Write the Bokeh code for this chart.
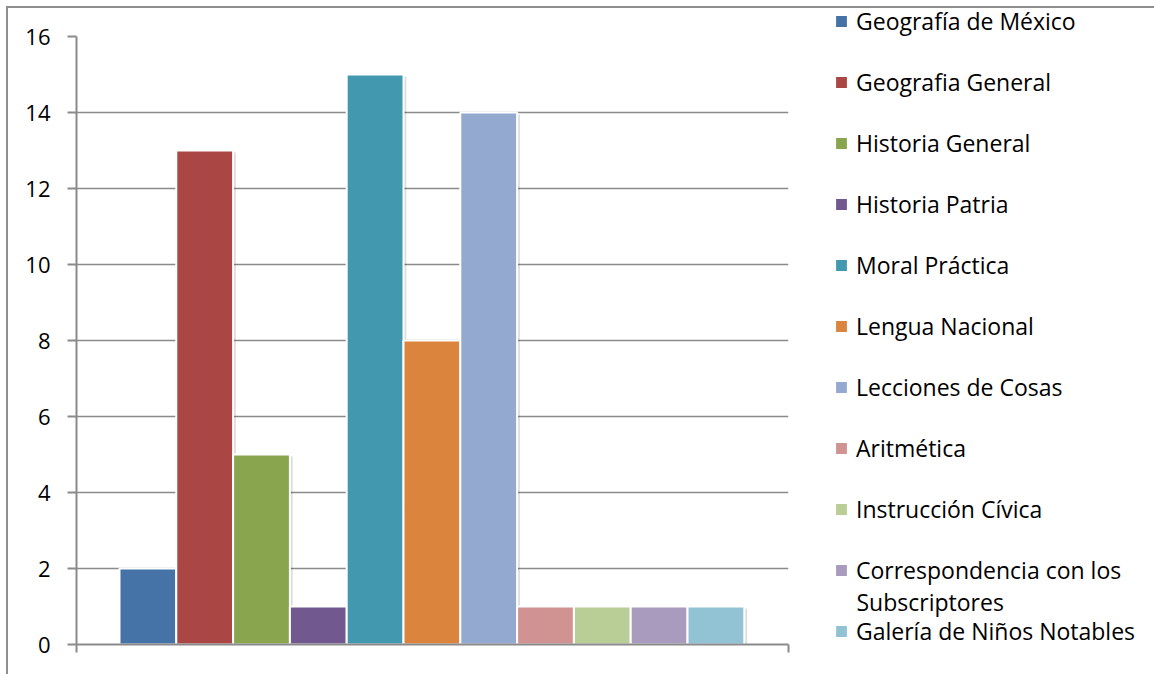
from bokeh.plotting import figure
from bokeh.models import (ColumnDataSource, Range1d, FixedTicker, Legend, LegendItem, Label)
from bokeh.transform import dodge
from bokeh.embed import file_html
from bokeh.resources import INLINE

categories = ["Geografía de México", "Geografia General", "Historia General", "Historia Patria",
              "Moral Práctica", "Lengua Nacional", "Lecciones de Cosas", "Aritmética",
              "Instrucción Cívica", "Correspondencia con los", "Galería de Niños Notables"]
values = [2, 13, 5, 1, 15, 8, 14, 1, 1, 1, 1]
colors = ["#4572A7", "#AA4643", "#89A54E", "#71588F", "#4198AF", "#DB843D",
          "#93A9CF", "#D19392", "#B9CD96", "#A99BBD", "#92C3D4"]
y_ticks = [0, 2, 4, 6, 8, 10, 12, 14, 16]
extra_line = "Subscriptores"

FONT = "Open Sans"
FS = "22px"
LFS = "23px"
GRAY = "#8a8a8a"

n = len(values)
p = figure(frame_width=712, frame_height=608, output_backend="svg", toolbar_location=None,
           x_range=Range1d(-1.257, n - 0.5 + 0.778), y_range=Range1d(0, 16),
           min_border_left=76, min_border_right=0, min_border_top=36, min_border_bottom=30)
p.outline_line_color = None
p.background_fill_color = "white"
p.border_fill_color = "white"
p.stylesheets = [":host::after { content: ''; position: absolute; left: 6px; top: 6px; "
                 "width: 1148px; bottom: 0px; border-top: 2px solid #8e8e8e; "
                 "border-left: 2px solid #8e8e8e; pointer-events: none; z-index: 20; }"]

src = ColumnDataSource(dict(x=list(range(n)), top=values, color=colors, name=categories))
# soft drop shadow behind bars
p.vbar(x=dodge("x", 0.05, range=p.x_range), top=dodge("top", -0.05), bottom=0, width=1,
       source=src, fill_color="black", fill_alpha=0.13, line_color=None)
bars = p.vbar(x="x", top="top", bottom=0, width=1, source=src, fill_color="color",
              line_color="white", line_width=2)

# y axis
p.yaxis.ticker = FixedTicker(ticks=y_ticks)
p.yaxis.axis_line_color = GRAY
p.yaxis.axis_line_width = 2
p.yaxis.major_tick_line_color = GRAY
p.yaxis.major_tick_line_width = 2
p.yaxis.major_tick_out = 9
p.yaxis.major_tick_in = 0
p.yaxis.minor_tick_line_color = None
p.yaxis.major_label_standoff = 17
p.yaxis.major_label_text_font = FONT
p.yaxis.major_label_text_font_size = FS
p.yaxis.major_label_text_color = "black"

# x axis: only end ticks
p.xaxis.ticker = FixedTicker(ticks=[p.x_range.start, p.x_range.end])
p.xaxis.axis_line_color = GRAY
p.xaxis.axis_line_width = 2
p.xaxis.major_tick_line_color = GRAY
p.xaxis.major_tick_line_width = 2
p.xaxis.major_tick_out = 8
p.xaxis.major_tick_in = 0
p.xaxis.minor_tick_line_color = None
p.xaxis.major_label_text_font_size = "1px"
p.xaxis.major_label_text_color = None
p.xaxis.major_label_standoff = 0

p.xgrid.grid_line_color = None
p.ygrid.ticker = FixedTicker(ticks=y_ticks)
p.ygrid.grid_line_color = GRAY
p.ygrid.grid_line_width = 1.5

items = [LegendItem(label=c, renderers=[bars], index=i) for i, c in enumerate(categories)]
legend = Legend(items=items, location=(45, -3), orientation="vertical",
                glyph_width=16, glyph_height=16, label_standoff=7,
                label_height=32, spacing=29, padding=0, margin=0,
                border_line_color=None, background_fill_alpha=0,
                label_text_font=FONT, label_text_font_size=LFS, label_text_color="black")
p.add_layout(legend, "right")

p.add_layout(Label(x=780, y=-565, x_units="screen", y_units="screen", text=extra_line,
                   text_font=FONT, text_font_size=LFS, text_color="black",
                   text_baseline="middle"), "above")

open("out.html", "w").write(file_html(p, INLINE))
